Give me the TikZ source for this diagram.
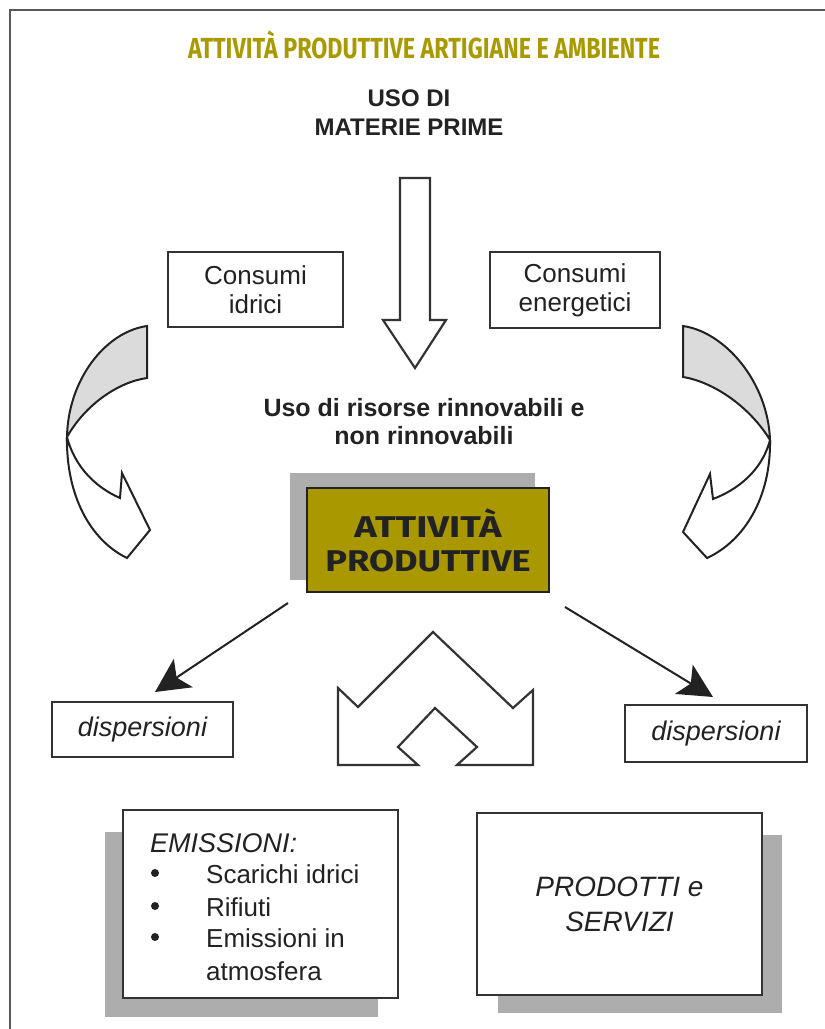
\documentclass[tikz,border=0pt]{standalone}
\usepackage{fontspec}
\usepackage{graphicx}
\setmainfont{Liberation Sans}
\newfontfamily\firab{Fira Sans}
\usetikzlibrary{arrows.meta}
\definecolor{titleol}{HTML}{A89A00}
\definecolor{boxol}{HTML}{A99800}
\definecolor{ink}{HTML}{333333}
\definecolor{txt}{HTML}{222222}
\begin{document}
\begin{tikzpicture}[x=1pt,y=-1pt,
  box/.style={draw=ink, line width=2.5pt, fill=white, inner sep=0pt, align=center, text=txt},
  shape2/.style={draw=ink, line width=2.2pt, line join=miter},
  band/.style={draw=txt, line width=2pt, fill=gray!28},
  ribbon/.style={draw=txt, line width=2pt, fill=white},
  shadowc/.style={fill=black!32, draw=none},
  lbl/.style={text=txt, align=center, inner sep=0pt},
  bul/.style={circle, fill=txt, inner sep=0pt, minimum size=8pt},
  darrow/.style={draw=txt, line width=2pt, -{Stealth[length=34pt,width=34pt,inset=8pt]}}
]
\useasboundingbox (0,0) rectangle (825,1029);
\fill[white] (0,0) rectangle (825,1029);
% frame
\draw[gray!70!black, line width=1.5pt] (10,1029) -- (10,10) -- (825,10);

% title
\node[lbl, text=titleol] (title) at (424,45) {\resizebox{472pt}{\height}{\fontsize{29}{32}\selectfont\firab\bfseries ATTIVITÀ PRODUTTIVE ARTIGIANE E AMBIENTE}};

% uso di materie prime
\node[lbl, font=\fontsize{24}{29}\selectfont\bfseries] (uso) at (409,113) {USO DI\\MATERIE PRIME};

% down block arrow
\draw[shape2, fill=white] (400,178) -- (430,178) -- (430,320) -- (446,320) -- (415,368) -- (383,320) -- (400,320) -- cycle;

% consumi boxes
\node[box, minimum width=175pt, minimum height=75pt, font=\fontsize{26}{29}\selectfont] (idr) at (255.5,289.5) {Consumi\\idrici};
\node[box, minimum width=170pt, minimum height=76pt, font=\fontsize{26}{29}\selectfont] (ene) at (575,290) {Consumi\\energetici};

% risorse
\node[lbl, font=\fontsize{25}{28}\selectfont\bfseries] (ris) at (424,422) {Uso di risorse rinnovabili e\\non rinnovabili};

% left curved arrow
\filldraw[band] (147,326) .. controls (105,332) and (68,380) .. (67,437) .. controls (85,405) and (118,382) .. (147,378) -- cycle;
\filldraw[ribbon] (67,437) .. controls (75,468) and (97,488) .. (120,498) -- (122,473) -- (150,530) -- (127,558) .. controls (90,540) and (66,495) .. (67,437);
% right curved arrow
\filldraw[band] (683,326) .. controls (725,332) and (768,382) .. (770,440) .. controls (750,407) and (714,382) .. (683,377) -- cycle;
\filldraw[ribbon] (770,440) .. controls (762,471) and (737,490) .. (713,499) -- (710,474) -- (683,532) -- (707,558) .. controls (744,541) and (771,498) .. (770,440);

% attivita box
\fill[shadowc] (290,473) rectangle (535,580);
\node[draw=txt, line width=2.5pt, fill=boxol, minimum width=242pt, minimum height=104pt, inner sep=0pt, align=center, text=txt, font=\fontsize{30}{34}\selectfont\firab\bfseries] (att) at (428,540) {\resizebox{147pt}{\height}{ATTIVITÀ}\\\resizebox{205pt}{\height}{PRODUTTIVE}};

% dispersioni
\node[box, minimum width=181pt, minimum height=55pt, font=\fontsize{27}{30}\selectfont\itshape] (dl) at (142.5,729.5) {dispersioni};
\node[box, minimum width=182pt, minimum height=57pt, font=\fontsize{27}{30}\selectfont\itshape] (dr) at (716,733.5) {dispersioni};
\coordinate (ls) at (288,603);
\coordinate (lt) at (155,692);
\coordinate (rs) at (565,607);
\coordinate (rt) at (713,697);
\draw[darrow] (ls) -- (lt);
\draw[darrow] (rs) -- (rt);

% double block shape
\draw[shape2, fill=white] (433,632) -- (358,707) -- (338,688) -- (338,765) -- (418,765) -- (398,747) -- (435,708) -- (477,747) -- (457,765) -- (533,765) -- (533,690) -- (513,708) -- cycle;

% emissioni box
\fill[shadowc] (105,832) rectangle (378,1017);
\node[box, minimum width=275pt, minimum height=188pt] (em) at (260.5,904) {};
\node[lbl, anchor=base west, font=\fontsize{27}{30}\selectfont\itshape] (emt) at (150,852) {EMISSIONI:};
\node[bul] (b1) at (155,873) {};
\node[bul] (b2) at (155,906) {};
\node[bul] (b3) at (155,937) {};
\node[lbl, anchor=base west, font=\fontsize{26}{30}\selectfont] (e1) at (206,883) {Scarichi idrici};
\node[lbl, anchor=base west, font=\fontsize{26}{30}\selectfont] (e2) at (206,916) {Rifiuti};
\node[lbl, anchor=base west, font=\fontsize{26}{30}\selectfont] (e3) at (206,947) {Emissioni in};
\node[lbl, anchor=base west, font=\fontsize{26}{30}\selectfont] (e4) at (206,980) {atmosfera};

% prodotti box
\fill[shadowc] (498,835) rectangle (782,1013);
\node[box, minimum width=285pt, minimum height=182pt, font=\fontsize{28}{35}\selectfont\itshape] (prod) at (619.5,904) {PRODOTTI e\\SERVIZI};
\end{tikzpicture}
\end{document}
